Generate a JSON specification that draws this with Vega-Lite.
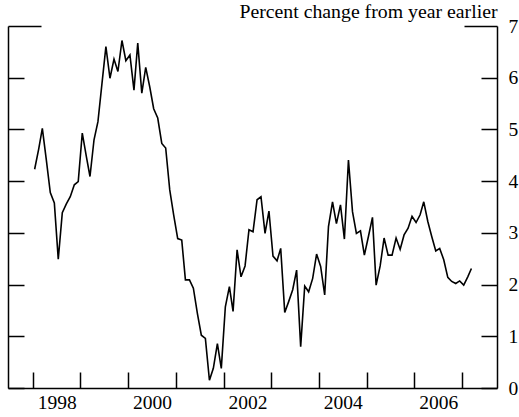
{
  "$schema": "https://vega.github.io/schema/vega-lite/v6.json",
  "width": 489,
  "height": 362,
  "autosize": {"type": "none"},
  "padding": {"left": 8, "top": 26, "right": 22, "bottom": 29},
  "background": "white",
  "config": {
    "font": "Liberation Serif",
    "view": {"stroke": null},
    "axis": {
      "labelFont": "Liberation Serif",
      "titleFont": "Liberation Serif",
      "labelColor": "black",
      "titleColor": "black",
      "domainColor": "black",
      "tickColor": "black",
      "domainWidth": 1.5,
      "tickWidth": 1.5,
      "grid": false
    }
  },
  "data": {
    "values": [
      {"date": "1998-01-15", "v": 4.23}, {"date": "1998-02-15", "v": 4.62}, {"date": "1998-03-15", "v": 5.02}, {"date": "1998-04-15", "v": 4.40},
      {"date": "1998-05-15", "v": 3.78}, {"date": "1998-06-15", "v": 3.58}, {"date": "1998-07-15", "v": 2.49}, {"date": "1998-08-15", "v": 3.39},
      {"date": "1998-09-15", "v": 3.56}, {"date": "1998-10-15", "v": 3.70}, {"date": "1998-11-15", "v": 3.93}, {"date": "1998-12-15", "v": 3.99},
      {"date": "1999-01-15", "v": 4.93}, {"date": "1999-02-15", "v": 4.48}, {"date": "1999-03-15", "v": 4.09}, {"date": "1999-04-15", "v": 4.80},
      {"date": "1999-05-15", "v": 5.15}, {"date": "1999-06-15", "v": 5.89}, {"date": "1999-07-15", "v": 6.60}, {"date": "1999-08-15", "v": 5.99},
      {"date": "1999-09-15", "v": 6.36}, {"date": "1999-10-15", "v": 6.12}, {"date": "1999-11-15", "v": 6.72}, {"date": "1999-12-15", "v": 6.33},
      {"date": "2000-01-15", "v": 6.44}, {"date": "2000-02-15", "v": 5.76}, {"date": "2000-03-15", "v": 6.67}, {"date": "2000-04-15", "v": 5.70},
      {"date": "2000-05-15", "v": 6.20}, {"date": "2000-06-15", "v": 5.82}, {"date": "2000-07-15", "v": 5.40}, {"date": "2000-08-15", "v": 5.22},
      {"date": "2000-09-15", "v": 4.73}, {"date": "2000-10-15", "v": 4.64}, {"date": "2000-11-15", "v": 3.83}, {"date": "2000-12-15", "v": 3.35},
      {"date": "2001-01-15", "v": 2.89}, {"date": "2001-02-15", "v": 2.86}, {"date": "2001-03-15", "v": 2.09}, {"date": "2001-04-15", "v": 2.09},
      {"date": "2001-05-15", "v": 1.93}, {"date": "2001-06-15", "v": 1.44}, {"date": "2001-07-15", "v": 1.02}, {"date": "2001-08-15", "v": 0.96},
      {"date": "2001-09-15", "v": 0.15}, {"date": "2001-10-15", "v": 0.38}, {"date": "2001-11-15", "v": 0.86}, {"date": "2001-12-15", "v": 0.38},
      {"date": "2002-01-15", "v": 1.57}, {"date": "2002-02-15", "v": 1.96}, {"date": "2002-03-15", "v": 1.48}, {"date": "2002-04-15", "v": 2.67},
      {"date": "2002-05-15", "v": 2.15}, {"date": "2002-06-15", "v": 2.36}, {"date": "2002-07-15", "v": 3.06}, {"date": "2002-08-15", "v": 3.02},
      {"date": "2002-09-15", "v": 3.64}, {"date": "2002-10-15", "v": 3.70}, {"date": "2002-11-15", "v": 2.99}, {"date": "2002-12-15", "v": 3.42},
      {"date": "2003-01-15", "v": 2.55}, {"date": "2003-02-15", "v": 2.46}, {"date": "2003-03-15", "v": 2.70}, {"date": "2003-04-15", "v": 1.46},
      {"date": "2003-05-15", "v": 1.67}, {"date": "2003-06-15", "v": 1.90}, {"date": "2003-07-15", "v": 2.28}, {"date": "2003-08-15", "v": 0.80},
      {"date": "2003-09-15", "v": 1.97}, {"date": "2003-10-15", "v": 1.86}, {"date": "2003-11-15", "v": 2.12}, {"date": "2003-12-15", "v": 2.59},
      {"date": "2004-01-15", "v": 2.35}, {"date": "2004-02-15", "v": 1.80}, {"date": "2004-03-15", "v": 3.12}, {"date": "2004-04-15", "v": 3.60},
      {"date": "2004-05-15", "v": 3.18}, {"date": "2004-06-15", "v": 3.54}, {"date": "2004-07-15", "v": 2.88}, {"date": "2004-08-15", "v": 4.41},
      {"date": "2004-09-15", "v": 3.41}, {"date": "2004-10-15", "v": 2.99}, {"date": "2004-11-15", "v": 3.04}, {"date": "2004-12-15", "v": 2.57},
      {"date": "2005-01-15", "v": 2.93}, {"date": "2005-02-15", "v": 3.30}, {"date": "2005-03-15", "v": 1.99}, {"date": "2005-04-15", "v": 2.36},
      {"date": "2005-05-15", "v": 2.90}, {"date": "2005-06-15", "v": 2.57}, {"date": "2005-07-15", "v": 2.57}, {"date": "2005-08-15", "v": 2.90},
      {"date": "2005-09-15", "v": 2.68}, {"date": "2005-10-15", "v": 2.96}, {"date": "2005-11-15", "v": 3.09}, {"date": "2005-12-15", "v": 3.32},
      {"date": "2006-01-15", "v": 3.20}, {"date": "2006-02-15", "v": 3.35}, {"date": "2006-03-15", "v": 3.60}, {"date": "2006-04-15", "v": 3.22},
      {"date": "2006-05-15", "v": 2.93}, {"date": "2006-06-15", "v": 2.65}, {"date": "2006-07-15", "v": 2.70}, {"date": "2006-08-15", "v": 2.48},
      {"date": "2006-09-15", "v": 2.14}, {"date": "2006-10-15", "v": 2.06}, {"date": "2006-11-15", "v": 2.02}, {"date": "2006-12-15", "v": 2.07},
      {"date": "2007-01-15", "v": 1.99}, {"date": "2007-02-15", "v": 2.15}, {"date": "2007-03-15", "v": 2.31}
    ]
  },
  "encoding": {
    "x": {
      "field": "date",
      "type": "temporal",
      "scale": {
        "type": "utc",
        "domain": [
          {"year": 1997, "month": 6, "date": 25, "utc": true},
          {"year": 2007, "month": 9, "date": 27, "utc": true}
        ]
      },
      "axis": {
        "orient": "bottom",
        "title": null,
        "values": [
          {"year": 1998, "utc": true}, {"year": 1999, "utc": true}, {"year": 2000, "utc": true},
          {"year": 2001, "utc": true}, {"year": 2002, "utc": true}, {"year": 2003, "utc": true},
          {"year": 2004, "utc": true}, {"year": 2005, "utc": true}, {"year": 2006, "utc": true},
          {"year": 2007, "utc": true}
        ],
        "labelExpr": "utcyear(datum.value) % 2 == 0 ? utcFormat(datum.value, '%Y') : ''",
        "tickSize": -16,
        "labelPadding": 36,
        "labelBaseline": "alphabetic",
        "labelOffset": 24,
        "labelFontSize": 19.5,
        "labelOverlap": false,
        "labelFlush": false,
        "labelBound": false
      }
    }
  },
  "layer": [
    {
      "mark": {"type": "line", "color": "black", "strokeWidth": 1.6},
      "encoding": {
        "y": {
          "field": "v",
          "type": "quantitative",
          "scale": {"domain": [0, 7], "nice": false, "zero": true},
          "axis": {
            "orient": "left",
            "title": null,
            "values": [0, 1, 2, 3, 4, 5, 6, 7],
            "labels": false,
            "tickSize": {"condition": {"test": "datum.value === 7", "value": -33}, "value": -16}
          }
        }
      }
    },
    {
      "mark": {"type": "line", "opacity": 0},
      "encoding": {
        "y": {
          "field": "v",
          "type": "quantitative",
          "axis": {
            "orient": "right",
            "values": [0, 1, 2, 3, 4, 5, 6, 7],
            "tickSize": {"condition": {"test": "datum.value === 7", "value": -33}, "value": -16},
            "labelPadding": {"condition": {"test": "datum.value === 7", "value": 44}, "value": 27},
            "labelAlign": "left",
            "labelBaseline": "middle",
            "labelFontSize": 19.5,
            "labelOverlap": false,
            "labelFlush": false,
            "labelBound": false,
            "title": "Percent change from year earlier",
            "titleAngle": 0,
            "titleAlign": "right",
            "titleBaseline": "alphabetic",
            "titleX": 0,
            "titleY": -9,
            "titleFontSize": 19.8,
            "titleFontWeight": "normal"
          }
        }
      }
    }
  ],
  "resolve": {"axis": {"y": "independent"}}
}
